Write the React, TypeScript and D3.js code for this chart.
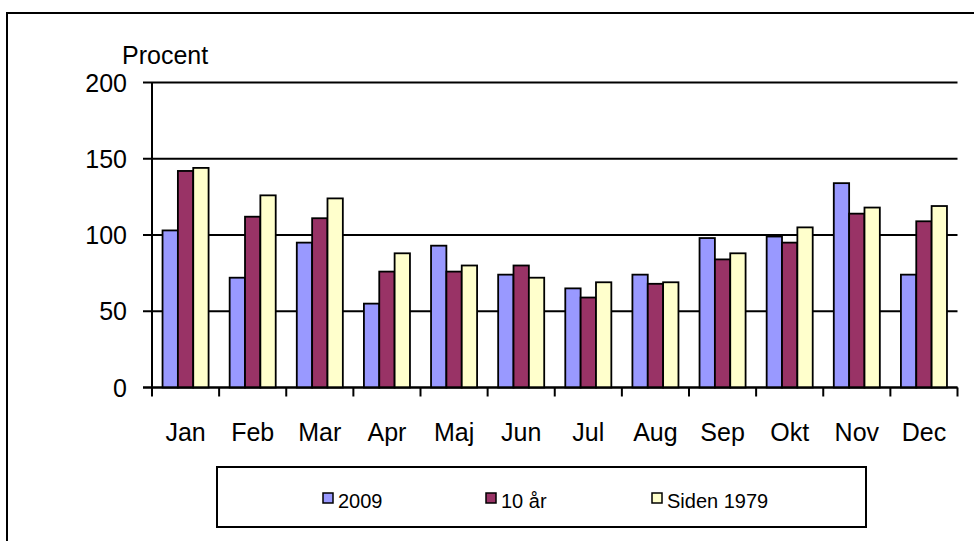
import React, { useEffect, useRef } from "react";
import * as d3 from "d3";

const months = ["Jan", "Feb", "Mar", "Apr", "Maj", "Jun", "Jul", "Aug", "Sep", "Okt", "Nov", "Dec"];
const seriesNames = ["2009", "10 år", "Siden 1979"];
const values2009 = [103, 72, 95, 55, 93, 74, 65, 74, 98, 99, 134, 74];
const values10yr = [142, 112, 111, 76, 76, 80, 59, 68, 84, 95, 114, 109];
const values1979 = [144, 126, 124, 88, 80, 72, 69, 69, 88, 105, 118, 119];
const yTicks = [0, 50, 100, 150, 200];
const colors = ["#9999FF", "#993366", "#FFFFCC"];

const FONT = "'Liberation Sans', Arial, sans-serif";

const App: React.FC = () => {
  const svgRef = useRef<SVGSVGElement | null>(null);

  useEffect(() => {
    if (!svgRef.current) return;
    const svg = d3.select(svgRef.current);
    svg.selectAll("*").remove();

    const left = 152;
    const right = 957.5;
    const top = 82.5;
    const bottom = 387.5;

    // outer chart border (only top and left edges visible)
    svg.append("rect")
      .attr("x", 7).attr("y", 13)
      .attr("width", 1000).attr("height", 600)
      .attr("fill", "white")
      .attr("stroke", "#000").attr("stroke-width", 2);

    const y = d3.scaleLinear().domain([0, 200]).range([bottom, top]);
    const x0 = d3.scaleBand<string>().domain(months).range([left, right]);
    const gap = x0.bandwidth() * 0.157;
    const x1 = d3.scaleBand<string>().domain(seriesNames).range([gap, x0.bandwidth() - gap]);

    // gridlines + left ticks
    const grid = svg.append("g");
    grid.selectAll("line")
      .data(yTicks)
      .enter()
      .append("line")
      .attr("x1", left - 9)
      .attr("x2", right)
      .attr("y1", d => y(d))
      .attr("y2", d => y(d))
      .attr("stroke", "#000")
      .attr("stroke-width", 2);

    grid.selectAll("text")
      .data(yTicks)
      .enter()
      .append("text")
      .attr("x", 127)
      .attr("y", d => y(d))
      .attr("dy", "0.36em")
      .attr("text-anchor", "end")
      .attr("font-family", FONT)
      .attr("font-size", 25)
      .text(d => d);

    svg.append("text")
      .attr("x", 122)
      .attr("y", 64)
      .attr("font-family", FONT)
      .attr("font-size", 25)
      .text("Procent");

    // bars
    const table = months.map((m, i) => ({
      month: m,
      vals: [values2009[i], values10yr[i], values1979[i]],
    }));

    const groups = svg.append("g")
      .selectAll("g")
      .data(table)
      .enter()
      .append("g")
      .attr("transform", d => `translate(${x0(d.month)},0)`);

    groups.selectAll("rect")
      .data(d => d.vals.map((v, k) => ({ name: seriesNames[k], v, k })))
      .enter()
      .append("rect")
      .attr("x", d => x1(d.name) ?? 0)
      .attr("y", d => y(d.v))
      .attr("width", x1.bandwidth())
      .attr("height", d => bottom - y(d.v))
      .attr("fill", d => colors[d.k])
      .attr("stroke", "#000")
      .attr("stroke-width", 1.8);

    // axes lines
    svg.append("line")
      .attr("x1", left).attr("x2", left)
      .attr("y1", top).attr("y2", bottom)
      .attr("stroke", "#000").attr("stroke-width", 2);

    svg.append("line")
      .attr("x1", left - 9).attr("x2", right)
      .attr("y1", bottom).attr("y2", bottom)
      .attr("stroke", "#000").attr("stroke-width", 2);

    const boundaries = months.map(m => x0(m) ?? 0).concat([right]);
    svg.append("g")
      .selectAll("line")
      .data(boundaries)
      .enter()
      .append("line")
      .attr("x1", d => d).attr("x2", d => d)
      .attr("y1", bottom).attr("y2", bottom + 9)
      .attr("stroke", "#000").attr("stroke-width", 2);

    svg.append("g")
      .selectAll("text")
      .data(months)
      .enter()
      .append("text")
      .attr("x", d => (x0(d) ?? 0) + x0.bandwidth() / 2)
      .attr("y", 441)
      .attr("text-anchor", "middle")
      .attr("font-family", FONT)
      .attr("font-size", 25)
      .text(d => d);

    // legend
    const legend = svg.append("g");
    legend.append("rect")
      .attr("x", 217).attr("y", 467)
      .attr("width", 649).attr("height", 60)
      .attr("fill", "white")
      .attr("stroke", "#000").attr("stroke-width", 2);

    const legendX = [323, 486, 652];
    const items = legend.selectAll("g.item")
      .data(seriesNames)
      .enter()
      .append("g")
      .attr("class", "item")
      .attr("transform", (d, i) => `translate(${legendX[i]},493)`);

    items.append("rect")
      .attr("width", 10).attr("height", 10)
      .attr("fill", (d, i) => colors[i])
      .attr("stroke", "#000").attr("stroke-width", 1.5);

    items.append("text")
      .attr("x", 15)
      .attr("y", 15)
      .attr("font-family", FONT)
      .attr("font-size", 20)
      .text(d => d);
  }, []);

  return (
    <svg
      ref={svgRef}
      width={974}
      height={541}
      style={{ position: "absolute", left: 0, top: 0, background: "white" }}
    ></svg>
  );
};

export default App;
